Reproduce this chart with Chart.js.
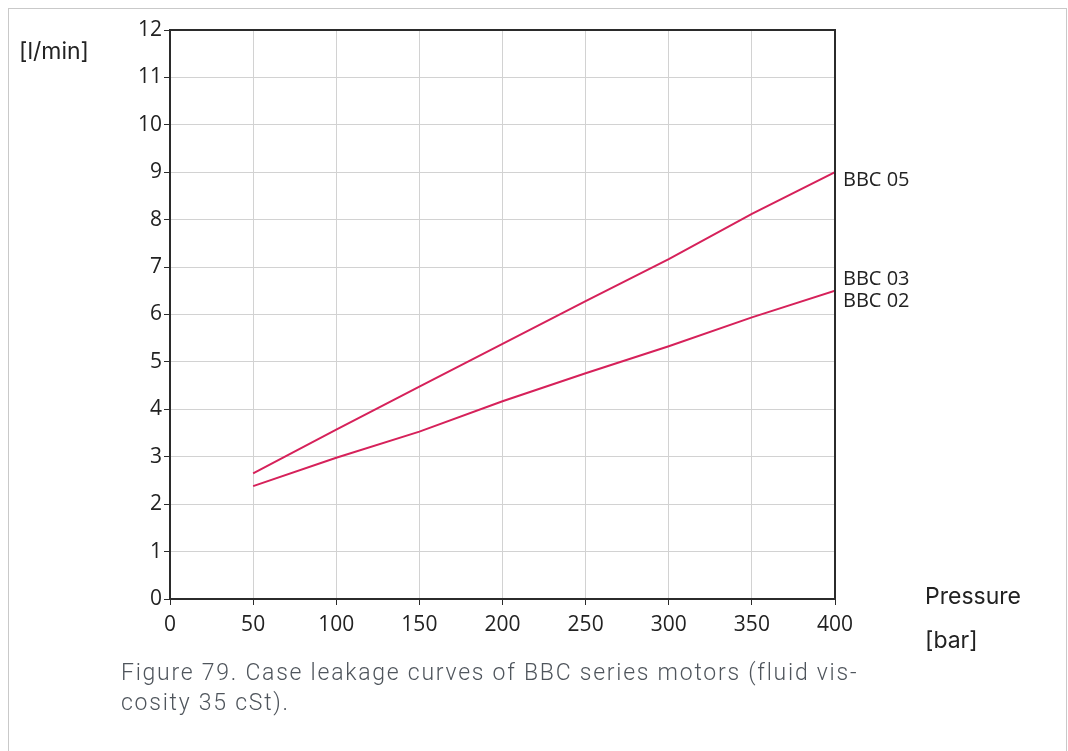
<!DOCTYPE html>
<html>
<head>
<meta charset="utf-8">
<script src="https://cdn.jsdelivr.net/npm/chart.js@4"></script>
<style>
  body { margin: 0; background: #fff; width: 1068px; height: 751px; overflow: hidden; position: relative; }
  .frame { position: absolute; left: 8px; top: 8px; width: 1057px; height: 800px; border: 1.5px solid #c9c9c9; }
  .chartBox { position: absolute; left: 0; top: 0; width: 1068px; height: 660px; }
  .unit { position: absolute; left: 19px; top: 37px; font: 23px Inter, sans-serif; color: #222; }
  .xlab { position: absolute; left: 925px; font: 23px Inter, sans-serif; color: #222; }
  .caption { position: absolute; left: 121px; top: 658px; width: 800px; font: 300 23px Roboto, sans-serif; letter-spacing: 1.75px; color: #4f555c; line-height: 30px; }
</style>
</head>
<body>
<div class="frame"></div>
<div class="chartBox"><canvas id="chart" width="1068" height="660"></canvas></div>
<div class="unit">[l/min]</div>
<div class="xlab" style="top:582px">Pressure</div>
<div class="xlab" style="top:626px">[bar]</div>
<div class="caption">Figure 79. Case leakage curves of BBC series motors (fluid vis-<br>cosity 35 cSt).</div>
<script>
// pressure [bar]
const pressure = [50, 100, 150, 200, 250, 300, 350, 400];
// leakage [l/min]
const bbc05 = [2.65, 3.57, 4.48, 5.38, 6.28, 7.17, 8.12, 9.0];
const bbc0203 = [2.38, 2.98, 3.53, 4.17, 4.76, 5.33, 5.94, 6.5];
const seriesNames = ["BBC 05", "BBC 03\nBBC 02"];

const lineColor = '#d6215a';
const darkColor = '#2b2b2b';

// box around the plot + end-of-line labels
const extras = {
    id: 'extras',
    afterDraw(chart){
        const ctx = chart.ctx;
        const a = chart.chartArea;
        ctx.save();
        ctx.strokeStyle = darkColor;
        ctx.lineWidth = 2;
        ctx.beginPath();
        ctx.moveTo(a.left, a.top);
        ctx.lineTo(a.right, a.top);
        ctx.lineTo(a.right, a.bottom);
        ctx.stroke();

        ctx.fillStyle = '#222';
        ctx.font = '20px "Open Sans", sans-serif';
        ctx.textBaseline = 'middle';
        chart.data.datasets.forEach((ds, i) => {
            const meta = chart.getDatasetMeta(i);
            const last = meta.data[meta.data.length - 1];
            const lines = seriesNames[i].split('\n');
            const x = last.x + 8;
            let y = last.y + 8;
            if (lines.length > 1) y = last.y - 11;
            lines.forEach((t, k) => ctx.fillText(t, x, y + k * 22));
        });
        ctx.restore();
    }
};

const config = {
    type: 'line',
    data: {
        datasets: [
            { label: seriesNames[0], data: pressure.map((p, i) => ({x: p, y: bbc05[i]})) },
            { label: seriesNames[1], data: pressure.map((p, i) => ({x: p, y: bbc0203[i]})) }
        ]
    },
    options: {
        responsive: false,
        animation: false,
        elements: {
            line: { borderColor: lineColor, borderWidth: 2, tension: 0 },
            point: { radius: 0 }
        },
        layout: { padding: { left: 0, top: 30, right: 233, bottom: 21 } },
        plugins: { legend: { display: false }, tooltip: { enabled: false } },
        scales: {
            x: {
                type: 'linear',
                min: 0, max: 400,
                ticks: { stepSize: 50, color: '#222', padding: 7, font: { family: 'Open Sans', size: 21 } },
                grid: { color: '#d2d2d2', tickColor: darkColor, tickLength: 6 },
                border: { color: darkColor, width: 2 },
                afterFit(scale){ scale.height = 40; }
            },
            y: {
                min: 0, max: 12,
                ticks: { stepSize: 1, color: '#222', padding: 2, font: { family: 'Open Sans', size: 21 } },
                grid: { color: '#d2d2d2', tickColor: darkColor, tickLength: 6 },
                border: { color: darkColor, width: 2 },
                afterFit(scale){ scale.width = 170; }
            }
        }
    },
    plugins: [extras]
};

new Chart(document.getElementById('chart'), config);
</script>
</body>
</html>
